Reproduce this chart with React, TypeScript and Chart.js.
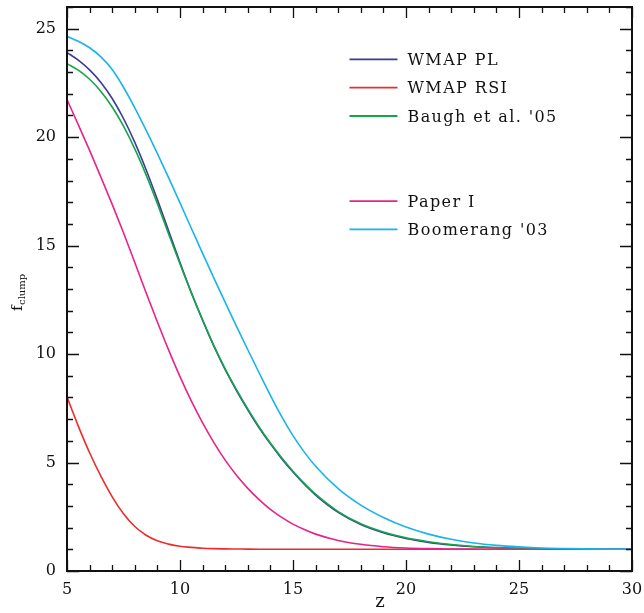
import React, { useEffect, useRef } from "react";
import { Chart, registerables } from "chart.js";

Chart.register(...registerables);

// redshift grid
const zValues = [
  5, 5.5, 6, 6.5, 7, 7.5, 8, 8.5, 9, 9.5, 10, 10.5, 11, 11.5, 12, 12.5, 13, 13.5,
  14, 14.5, 15, 15.5, 16, 17, 18, 19, 20, 21, 22, 23, 24, 25, 26, 27, 28, 29, 30,
];

const wmapPL = [
  23.9, 23.55, 23.1, 22.52, 21.78, 20.86, 19.76, 18.5, 17.12, 15.67, 14.22, 12.84, 11.56,
  10.36, 9.28, 8.32, 7.43, 6.6, 5.86, 5.18, 4.56, 4.0, 3.5, 2.7, 2.14, 1.76, 1.5, 1.32,
  1.2, 1.12, 1.07, 1.04, 1.02, 1.01, 1.005, 1.0, 1.0,
];

const wmapRSI = [
  8.02, 6.68, 5.45, 4.37, 3.42, 2.64, 2.05, 1.65, 1.39, 1.24, 1.14, 1.09, 1.05, 1.03,
  1.02, 1.015, 1.01, 1.005, 1.0, 1.0, 1.0, 1.0, 1.0, 1.0, 1.0, 1.0, 1.0, 1.0, 1.0, 1.0,
  1.0, 1.0, 1.0, 1.0, 1.0, 1.0, 1.0,
];

const baugh05 = [
  23.39, 23.09, 22.67, 22.11, 21.39, 20.51, 19.46, 18.26, 16.93, 15.53, 14.15, 12.82,
  11.58, 10.39, 9.32, 8.36, 7.47, 6.64, 5.9, 5.22, 4.6, 4.04, 3.54, 2.74, 2.18, 1.8, 1.53,
  1.35, 1.22, 1.13, 1.08, 1.045, 1.02, 1.01, 1.005, 1.0, 1.0,
];

const paperI = [
  21.73, 20.57, 19.39, 18.16, 16.9, 15.59, 14.22, 12.83, 11.48, 10.18, 8.96, 7.84, 6.83,
  5.92, 5.11, 4.41, 3.81, 3.29, 2.84, 2.47, 2.16, 1.91, 1.7, 1.41, 1.23, 1.12, 1.06, 1.03,
  1.015, 1.007, 1.0, 1.0, 1.0, 1.0, 1.0, 1.0, 1.0,
];

const boomerang03 = [
  24.65, 24.42, 24.12, 23.7, 23.12, 22.3, 21.35, 20.32, 19.24, 18.12, 16.97, 15.8, 14.64,
  13.5, 12.38, 11.28, 10.2, 9.14, 8.1, 7.12, 6.24, 5.48, 4.83, 3.8, 3.04, 2.47, 2.03, 1.7,
  1.46, 1.29, 1.18, 1.11, 1.06, 1.035, 1.02, 1.01, 1.005,
];

const seriesLabels = ["WMAP PL", "WMAP RSI", "Baugh et al. '05", "Paper I", "Boomerang '03"];
const seriesColors = ["#3b3b98", "#ec2c2c", "#14a54b", "#e8238a", "#18b4ea"];
const seriesValues = [wmapPL, wmapRSI, baugh05, paperI, boomerang03];
const legendRows = [0, 1, 2, 5, 6];

const xTickValues = [5, 10, 15, 20, 25, 30];
const yTickValues = [0, 5, 10, 15, 20, 25];

const FONT = "'DejaVu Serif', serif";

const zeroPadding = (s: any) => {
  s.paddingLeft = 0;
  s.paddingRight = 0;
  s.paddingTop = 0;
  s.paddingBottom = 0;
};

const framePlugin = {
  id: "frameTicksLegend",
  afterDatasetsDraw(chart: any) {
    const { ctx, chartArea, scales } = chart;
    const { left, right, top, bottom } = chartArea;
    const xs = scales.x;
    const ys = scales.y;
    ctx.save();
    ctx.strokeStyle = "#111";
    ctx.lineCap = "butt";

    // inward ticks on all four sides
    ctx.lineWidth = 1.3;
    ctx.beginPath();
    for (let v = Math.ceil(xs.min); v <= xs.max; v++) {
      const px = Math.round(xs.getPixelForValue(v)) + 0.5;
      const len = v % 5 === 0 ? 11 : 6;
      ctx.moveTo(px, bottom);
      ctx.lineTo(px, bottom - len);
      ctx.moveTo(px, top);
      ctx.lineTo(px, top + len);
    }
    for (let v = Math.ceil(ys.min); v <= ys.max; v++) {
      const py = Math.round(ys.getPixelForValue(v)) + 0.5;
      const len = v % 5 === 0 ? 12 : 6;
      ctx.moveTo(left, py);
      ctx.lineTo(left + len, py);
      ctx.moveTo(right, py);
      ctx.lineTo(right - len, py);
    }
    ctx.stroke();

    // frame
    ctx.lineWidth = 2;
    ctx.strokeRect(left, top, right - left, bottom - top);

    // legend
    const lx0 = left + (right - left) * 0.5;
    const rowH = 28.35;
    const y0 = top + 52.3;
    ctx.font = `16px ${FONT}`;
    (ctx as any).letterSpacing = "1.4px";
    ctx.textBaseline = "alphabetic";
    ctx.textAlign = "left";
    chart.data.datasets.forEach((ds: any, i: number) => {
      const yy = y0 + legendRows[i] * rowH;
      ctx.strokeStyle = ds.borderColor;
      ctx.lineWidth = 1.8;
      ctx.beginPath();
      ctx.moveTo(lx0, yy);
      ctx.lineTo(lx0 + 48, yy);
      ctx.stroke();
      ctx.fillStyle = "#111";
      ctx.fillText(ds.label, lx0 + 58, yy + 5.5);
    });
    (ctx as any).letterSpacing = "0px";

    // axis titles
    ctx.fillStyle = "#111";
    ctx.font = `18px ${FONT}`;
    ctx.textAlign = "center";
    ctx.fillText("z", 380, 607);

    ctx.save();
    ctx.translate(22, 311);
    ctx.rotate(-Math.PI / 2);
    ctx.textAlign = "left";
    ctx.font = `15px ${FONT}`;
    ctx.fillText("f", 0, 0);
    const fw = ctx.measureText("f").width;
    ctx.font = `10px ${FONT}`;
    ctx.fillText("clump", fw + 0.5, 3);
    ctx.restore();

    ctx.restore();
  },
};

export default function App() {
  const ref = useRef<HTMLCanvasElement | null>(null);

  useEffect(() => {
    if (!ref.current) return;
    const datasets = seriesLabels.map((label, i) => ({
      label,
      data: zValues.map((z, k) => ({ x: z, y: seriesValues[i][k] })),
      borderColor: seriesColors[i],
      backgroundColor: seriesColors[i],
      borderWidth: 1.6,
      pointRadius: 0,
      fill: false,
      cubicInterpolationMode: "monotone" as const,
      order: seriesLabels.length - i,
    }));
    const chart = new Chart(ref.current, {
      type: "line",
      data: { datasets },
      options: {
        responsive: false,
        animation: false,
        events: [],
        layout: { padding: { left: 0, right: 12, top: 7, bottom: 0 } },
        plugins: { legend: { display: false }, tooltip: { enabled: false } },
        scales: {
          x: {
            type: "linear",
            min: 5,
            max: 30,
            grid: { display: false, drawTicks: false },
            border: { display: false },
            afterBuildTicks: (s: any) => {
              s.ticks = xTickValues.map((v) => ({ value: v }));
            },
            afterFit: (s: any) => {
              s.height = 42;
              zeroPadding(s);
            },
            ticks: {
              color: "#111",
              font: { family: FONT, size: 16 },
              padding: 9,
              maxRotation: 0,
              autoSkip: false,
            },
          },
          y: {
            type: "linear",
            min: 0,
            max: 26,
            grid: { display: false, drawTicks: false },
            border: { display: false },
            afterBuildTicks: (s: any) => {
              s.ticks = yTickValues.map((v) => ({ value: v }));
            },
            afterFit: (s: any) => {
              s.width = 67;
              zeroPadding(s);
            },
            ticks: {
              color: "#111",
              font: { family: FONT, size: 16 },
              padding: 11,
              autoSkip: false,
            },
          },
        },
      },
      plugins: [framePlugin],
    });
    return () => chart.destroy();
  }, []);

  return (
    <canvas
      ref={ref}
      width={644}
      height={613}
      style={{ position: "fixed", left: 0, top: 0, display: "block", background: "#fff" }}
    />
  );
}
